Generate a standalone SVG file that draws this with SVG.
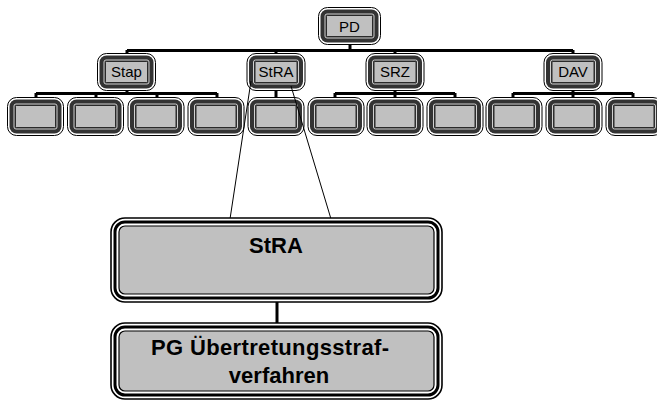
<svg xmlns="http://www.w3.org/2000/svg" xmlns:xlink="http://www.w3.org/1999/xlink" width="657" height="401" viewBox="0 0 657 401">
  <style>
    .o { fill: #ffffff; stroke: #000000; stroke-width: 1; }
    .b { fill: #333333; }
    .l { fill: none; stroke: #d0d0d0; stroke-width: 1; }
    .g { fill: #c0c0c0; stroke: #2a2a2a; stroke-width: 1; }
    .bo { fill: #ffffff; stroke: #000000; stroke-width: 1.6; }
    .bb { fill: none; stroke: #000000; stroke-width: 3; }
    .bi { fill: #c0c0c0; stroke: #000000; stroke-width: 1.2; }
    .bar { stroke: #000000; stroke-width: 3; fill: none; }
    .thin { stroke: #000000; stroke-width: 1; fill: none; }
    .t { font-family: "Liberation Sans", Arial, sans-serif; font-size: 15px; fill: #000000; text-anchor: middle; }
    .tb { font-family: "Liberation Sans", Arial, sans-serif; font-size: 22px; font-weight: bold; fill: #000000; text-anchor: middle; }
  </style>
  <defs>
    <!-- small framed box, 57 x 39 -->
    <g id="leafShape">
      <rect class="o" x="0.5" y="0.5" width="56" height="38" rx="9"/>
      <rect class="b" x="2.5" y="2.5" width="52" height="34" rx="7"/>
      <rect class="l" x="7" y="7" width="43" height="25" rx="2"/>
      <rect class="g" x="8.5" y="8.5" width="40" height="22" rx="1"/>
    </g>
    <!-- labelled framed box, 59 x 38 -->
    <g id="midShape">
      <rect class="o" x="0.5" y="0.5" width="58" height="37" rx="9"/>
      <rect class="b" x="2.5" y="2.5" width="54" height="33" rx="7"/>
      <rect class="l" x="7" y="7" width="45" height="24" rx="2"/>
      <rect class="g" x="8.5" y="8.5" width="42" height="21" rx="1"/>
    </g>
  </defs>

  <!-- connectors -->
  <g id="connectors">
    <!-- top level -->
    <line class="bar" x1="350" y1="44" x2="350" y2="51"/>
    <line class="bar" x1="127" y1="50.5" x2="573" y2="50.5"/>
    <line class="bar" x1="127" y1="50" x2="127" y2="54"/>
    <line class="bar" x1="276" y1="50" x2="276" y2="54"/>
    <line class="bar" x1="395" y1="50" x2="395" y2="54"/>
    <line class="bar" x1="573" y1="50" x2="573" y2="54"/>
    <!-- Stap branch -->
    <line class="bar" x1="127" y1="90" x2="127" y2="94"/>
    <line class="bar" x1="36" y1="93.5" x2="217" y2="93.5"/>
    <line class="bar" x1="36" y1="93" x2="36" y2="98"/>
    <line class="bar" x1="96" y1="93" x2="96" y2="98"/>
    <line class="bar" x1="157" y1="93" x2="157" y2="98"/>
    <line class="bar" x1="217" y1="93" x2="217" y2="98"/>
    <!-- StRA branch -->
    <line class="bar" x1="276" y1="90" x2="276" y2="98"/>
    <!-- SRZ branch -->
    <line class="bar" x1="395" y1="90" x2="395" y2="94"/>
    <line class="bar" x1="335" y1="93.5" x2="455" y2="93.5"/>
    <line class="bar" x1="335" y1="93" x2="335" y2="98"/>
    <line class="bar" x1="395" y1="93" x2="395" y2="98"/>
    <line class="bar" x1="455" y1="93" x2="455" y2="98"/>
    <!-- DAV branch -->
    <line class="bar" x1="573" y1="90" x2="573" y2="94"/>
    <line class="bar" x1="513" y1="93.5" x2="633" y2="93.5"/>
    <line class="bar" x1="513" y1="93" x2="513" y2="98"/>
    <line class="bar" x1="573" y1="93" x2="573" y2="98"/>
    <line class="bar" x1="633" y1="93" x2="633" y2="98"/>
    <!-- big boxes -->
    <line class="bar" x1="277" y1="301" x2="277" y2="323"/>
  </g>

  <!-- top node -->
  <g id="node-pd">
    <rect class="o" x="318.5" y="7.5" width="62" height="37" rx="9"/>
    <rect class="b" x="320.5" y="9.5" width="58" height="33" rx="7"/>
    <rect class="l" x="325" y="14" width="49" height="24" rx="2"/>
    <rect class="g" x="326.5" y="15.5" width="46" height="21" rx="1"/>
    <text class="t" x="349.5" y="32">PD</text>
  </g>

  <!-- second level -->
  <g id="node-stap">
    <use xlink:href="#midShape" x="97" y="53"/>
    <text class="t" x="126.5" y="77">Stap</text>
  </g>
  <g id="node-stra">
    <use xlink:href="#midShape" x="246.5" y="53"/>
    <text class="t" x="276" y="77">StRA</text>
  </g>
  <g id="node-srz">
    <use xlink:href="#midShape" x="365.5" y="53"/>
    <text class="t" x="395" y="77">SRZ</text>
  </g>
  <g id="node-dav">
    <use xlink:href="#midShape" x="543.5" y="53"/>
    <text class="t" x="573" y="77">DAV</text>
  </g>

  <!-- third level -->
  <g id="leaf-1"><use xlink:href="#leafShape" x="7" y="97"/></g>
  <g id="leaf-2"><use xlink:href="#leafShape" x="67" y="97"/></g>
  <g id="leaf-3"><use xlink:href="#leafShape" x="127.5" y="97"/></g>
  <g id="leaf-4"><use xlink:href="#leafShape" x="187.5" y="97"/></g>
  <g id="leaf-5"><use xlink:href="#leafShape" x="247.5" y="97"/></g>
  <g id="leaf-6"><use xlink:href="#leafShape" x="307.5" y="97"/></g>
  <g id="leaf-7"><use xlink:href="#leafShape" x="366.5" y="97"/></g>
  <g id="leaf-8"><use xlink:href="#leafShape" x="426.5" y="97"/></g>
  <g id="leaf-9"><use xlink:href="#leafShape" x="485.5" y="97"/></g>
  <g id="leaf-10"><use xlink:href="#leafShape" x="545.5" y="97"/></g>
  <g id="leaf-11"><use xlink:href="#leafShape" x="605.5" y="97"/></g>

  <!-- zoom lines from StRA to its detail box -->
  <g id="zoom-lines">
    <line class="thin" x1="251" y1="81" x2="230" y2="219"/>
    <line class="thin" x1="291" y1="86" x2="331" y2="219"/>
  </g>

  <!-- detail boxes -->
  <g id="node-stra-detail">
    <rect class="bo" x="111" y="218" width="331" height="84" rx="14"/>
    <rect class="bb" x="115" y="222" width="323" height="76" rx="10"/>
    <rect class="bi" x="119" y="226" width="315" height="68" rx="6"/>
    <text class="tb" x="276" y="253">StRA</text>
  </g>
  <g id="node-pg">
    <rect class="bo" x="111" y="323" width="331" height="76" rx="14"/>
    <rect class="bb" x="115" y="327" width="323" height="68" rx="10"/>
    <rect class="bi" x="119" y="331" width="315" height="60" rx="6"/>
    <text class="tb" x="270" y="355" textLength="238" lengthAdjust="spacing">PG Übertretungsstraf-</text>
    <text class="tb" x="279" y="383">verfahren</text>
  </g>
</svg>
